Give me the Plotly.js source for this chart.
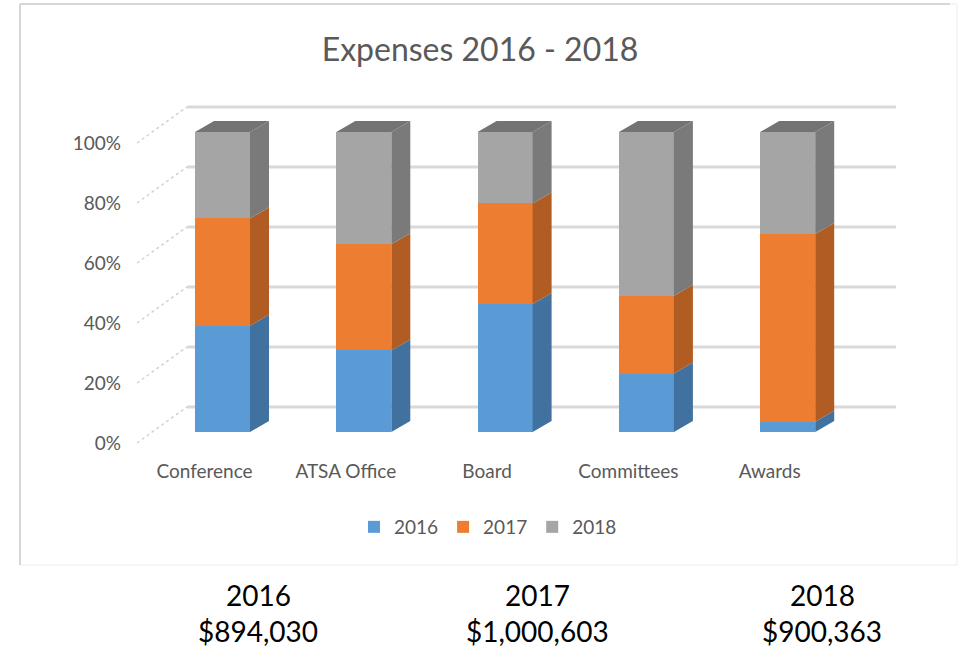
<!DOCTYPE html>
<html>
<head>
<meta charset="utf-8">
<script src="https://cdn.plot.ly/plotly-3.0.1.min.js"></script>
<style>
  html, body { margin: 0; padding: 0; background: #fff; }
  #chart { width: 959px; height: 649px; }
</style>
</head>
<body>
<div id="chart"></div>
<script>
// chart values (share of each year, per category)
const categories = ['Conference', 'ATSA Office', 'Board', 'Committees', 'Awards'];
const years = ['2016', '2017', '2018'];
const share2016 = [35.4, 27.2, 42.7, 19.5, 3.4];
const share2017 = [35.8, 35.4, 33.5, 25.9, 62.6];
const share2018 = [28.8, 37.4, 23.8, 54.6, 34.0];
const yTicks = [0, 20, 40, 60, 80, 100];
const totals = ['$894,030', '$1,000,603', '$900,363'];

const frontColors = ['#5b9bd5', '#ed7d31', '#a5a5a5'];
const sideColors = ['#41719e', '#b05c22', '#7a7a7a'];
const topColor = '#737373';
const textColor = '#595959';
const font = 'Lato, "Open Sans", sans-serif';

const W = 959, H = 649;
// pixel helpers for the fake 3d
const pxPerCat = 141.3;
const firstLabelPx = 204.5;
const pxPerPct = 3.0;
const barBasePx = 432;     // front bottom of the bars
const labelBasePx = 443;   // 0% label level (front plane)
const barWidth = 55 / pxPerCat;
const barOffset = (18 - 27.5) / pxPerCat;
const depthX = 19 / pxPerCat;
const depthY = 11 / pxPerCat * pxPerCat / pxPerPct;
const wallDx = 50, wallDy = 36;

function px(x) { return x / W; }
function py(y) { return 1 - y / H; }

const series = [share2016, share2017, share2018];

// normalised shares so the faces follow the 100% bars
const sums = categories.map((c, i) => series.reduce((a, s) => a + s[i], 0));
const pct = series.map(s => s.map((v, i) => v / sums[i] * 100));

const idx = categories.map((c, i) => i);

const traces = [];
series.forEach((s, k) => {
  traces.push({
    type: 'bar',
    name: years[k],
    x: idx,
    y: s,
    width: barWidth,
    offset: barOffset,
    marker: { color: frontColors[k], line: { width: 0 } },
    hoverinfo: 'skip'
  });
});

// side faces, one trace per series
pct.forEach((p, k) => {
  let xs = [], ys = [];
  idx.forEach(i => {
    let lo = 0;
    for (let j = 0; j < k; j++) lo += pct[j][i];
    let hi = lo + p[i];
    let xr = i + barOffset + barWidth;
    xs.push(xr, xr + depthX, xr + depthX, xr, xr, null);
    ys.push(lo, lo + depthY, hi + depthY, hi, lo, null);
  });
  traces.push({
    type: 'scatter', mode: 'lines', x: xs, y: ys, fill: 'toself',
    fillcolor: sideColors[k], line: { width: 0, color: sideColors[k] },
    showlegend: false, hoverinfo: 'skip'
  });
});

// top faces
let tx = [], ty = [];
idx.forEach(i => {
  let xl = i + barOffset, xr = xl + barWidth;
  tx.push(xl, xl + depthX, xr + depthX, xr, xl, null);
  ty.push(100, 100 + depthY, 100 + depthY, 100, 100, null);
});
traces.push({
  type: 'scatter', mode: 'lines', x: tx, y: ty, fill: 'toself',
  fillcolor: topColor, line: { width: 0, color: topColor },
  showlegend: false, hoverinfo: 'skip'
});

// invisible trace so the label axis is drawn
traces.push({
  type: 'scatter', mode: 'markers', x: [0], y: [0], yaxis: 'y2',
  marker: { opacity: 0 }, showlegend: false, hoverinfo: 'skip'
});

const shapes = [];
// chart frame
shapes.push({ type: 'rect', xref: 'paper', yref: 'paper', x0: px(20), x1: px(957), y0: py(565), y1: py(4),
  line: { color: '#ececec', width: 1 }, layer: 'below' });
shapes.push({ type: 'line', xref: 'paper', yref: 'paper', x0: px(20), x1: px(20), y0: py(565), y1: py(4),
  line: { color: '#d6d6d6', width: 2 }, layer: 'below' });
shapes.push({ type: 'line', xref: 'paper', yref: 'paper', x0: px(20), x1: px(950), y0: py(4), y1: py(4),
  line: { color: '#d6d6d6', width: 2 }, layer: 'below' });

// back wall gridlines and the dotted side wall lines
const wallUnits = wallDy / pxPerPct;
yTicks.forEach(v => {
  shapes.push({ type: 'line', xref: 'paper', yref: 'y2', x0: px(137 + wallDx), x1: px(896),
    y0: v + wallUnits, y1: v + wallUnits, line: { color: '#d9d9d9', width: 3 }, layer: 'below' });
  shapes.push({ type: 'line', xref: 'paper', yref: 'y2', x0: px(137), x1: px(137 + wallDx),
    y0: v, y1: v + wallUnits, line: { color: '#d2d2d2', width: 1.5, dash: 'dot' }, layer: 'below' });
});

const annotations = [];
const colX = [258, 537, 822];
years.forEach((y, k) => {
  annotations.push({ xref: 'paper', yref: 'paper', x: px(colX[k]), y: py(595), text: y, showarrow: false,
    xanchor: 'center', yanchor: 'middle', font: { family: font, size: 28, color: '#000' } });
  annotations.push({ xref: 'paper', yref: 'paper', x: px(colX[k]), y: py(631), text: totals[k], showarrow: false,
    xanchor: 'center', yanchor: 'middle', font: { family: font, size: 28, color: '#000' } });
});

const xr0 = -firstLabelPx / pxPerCat;
const layout = {
  width: W, height: H,
  margin: { l: 0, r: 0, t: 0, b: 0 },
  paper_bgcolor: '#fff', plot_bgcolor: 'rgba(0,0,0,0)',
  barmode: 'stack', barnorm: 'percent',
  hovermode: false,
  title: { text: 'Expenses 2016 - 2018', x: px(480), y: py(50), xanchor: 'center', yanchor: 'middle',
    font: { family: font, size: 32, color: textColor } },
  xaxis: {
    domain: [0, 1], range: [xr0, xr0 + W / pxPerCat],
    anchor: 'free', position: py(458),
    tickvals: idx, ticktext: categories, ticks: '',
    showgrid: false, zeroline: false, showline: false,
    tickfont: { family: font, size: 19, color: textColor }
  },
  yaxis: {
    domain: [0, 1], range: [-(H - barBasePx) / pxPerPct, barBasePx / pxPerPct],
    visible: false, showgrid: false, zeroline: false
  },
  yaxis2: {
    overlaying: 'y', anchor: 'free', position: px(121), side: 'left',
    range: [-(H - labelBasePx) / pxPerPct, labelBasePx / pxPerPct],
    tickvals: yTicks, ticktext: yTicks.map(v => v + '%'), ticks: '',
    showgrid: false, zeroline: false, showline: false,
    tickfont: { family: font, size: 19, color: textColor }
  },
  legend: {
    orientation: 'h', x: px(488), y: py(527), xanchor: 'center', yanchor: 'middle',
    font: { family: font, size: 19, color: textColor }, traceorder: 'normal'
  },
  shapes: shapes,
  annotations: annotations
};

Plotly.newPlot('chart', traces, layout, { displayModeBar: false, staticPlot: true });
</script>
</body>
</html>
